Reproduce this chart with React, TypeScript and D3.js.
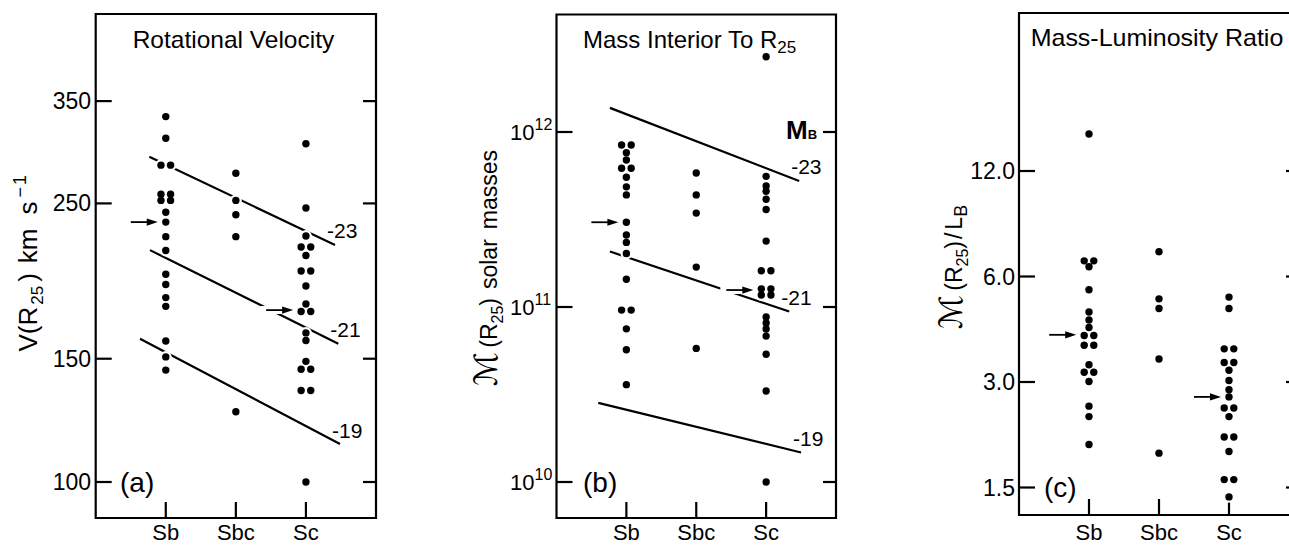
import React from "react";
import * as d3 from "d3";

// ---------- categories & ticks ----------
const categories = ["Sb", "Sbc", "Sc"];

const velTicks = [100, 150, 250, 350];
const velTickLabels = ["100", "150", "250", "350"];
const massTicks = [1e10, 1e11, 1e12];
const massTickExp = ["10", "11", "12"];
const mlTicks = [1.5, 3, 6, 12];
const mlTickLabels = ["1.5", "3.0", "6.0", "12.0"];

// ---------- panel (a): rotational velocity V(R25) km/s ----------
const velSb = [332.6, 309.8, 283.5, 283.5, 257.7, 257.7, 252.5, 252.5, 242.8, 235.1, 224.1, 214.1, 198.0, 191.5, 183.4, 178.2, 159.0, 150.9, 144.5];
const velSbc = [276.1, 252.5, 240.9, 224.1, 126.0];
const velSc = [304.2, 246.2, 224.6, 216.6, 216.6, 210.6, 200.2, 200.2, 190.5, 179.6, 175.2, 175.2, 163.3, 159.3, 148.7, 144.9, 144.9, 135.1, 135.1, 100.0];
// lines of constant M_B: [label, x0 (category units), v0, x1, v1]
const velLines: [string, number, number, number, number][] = [
  ["-23", 0.765, 291.5, 3.415, 218.1],
  ["-21", 0.775, 214.4, 3.462, 157.6],
  ["-19", 0.632, 160.2, 3.486, 113.3],
];
// median arrows: [category index, value]
const velArrows: [number, number][] = [[0, 235.1], [2, 176.0]];

// ---------- panel (b): mass interior to R25 (solar masses) ----------
const massSb = [8.43e11, 8.43e11, 7.62e11, 6.92e11, 6.21e11, 6.21e11, 5.51e11, 4.86e11, 4.37e11, 3.05e11, 2.58e11, 2.34e11, 2.02e11, 1.44e11, 9.6e10, 9.6e10, 7.5e10, 5.7e10, 3.6e10];
const massSbc = [5.83e11, 4.37e11, 3.44e11, 1.69e11, 5.8e10];
const massSc = [2.69e12, 5.58e11, 4.91e11, 4.59e11, 4.13e11, 3.61e11, 2.38e11, 1.61e11, 1.61e11, 1.27e11, 1.27e11, 1.17e11, 1.17e11, 8.77e10, 8.11e10, 7.48e10, 6.82e10, 5.37e10, 3.31e10, 1.0e10];
const massLines: [string, number, number, number, number][] = [
  ["-23", 0.765, 1.374e12, 3.473, 5.25e11],
  ["-21", 0.765, 2.075e11, 3.331, 9.42e10],
  ["-19", 0.598, 2.83e10, 3.5, 1.475e10],
];
const massArrows: [number, number][] = [[0, 3.05e11], [2, 1.25e11]];

// ---------- panel (c): mass-luminosity ratio ----------
const mlSb = [15.3, 6.65, 6.65, 6.4, 5.5, 4.75, 4.51, 4.29, 4.07, 4.07, 3.82, 3.82, 3.36, 3.2, 3.2, 3.01, 2.56, 2.39, 1.99];
const mlSbc = [7.06, 5.18, 4.86, 3.49, 1.88];
const mlSc = [5.24, 4.86, 3.73, 3.73, 3.41, 3.41, 3.24, 3.03, 2.85, 2.72, 2.53, 2.53, 2.39, 2.09, 2.09, 1.9, 1.58, 1.58, 1.41];
const mlArrows: [number, number][] = [[0, 4.09], [2, 2.72]];

const FONT = "'Liberation Sans', Arial, sans-serif";
const SCRIPT = "'DejaVu Sans', 'DejaVu Serif', serif";
const R = 3.7;
const PAIR = 4.8;

type Frame = { left: number; right: number; top: number; bottom: number };

function layoutDots(cols: number[][], x: d3.ScaleLinear<number, number>, y: (v: number) => number) {
  const pts: { cx: number; cy: number; col: number }[] = [];
  cols.forEach((vals, ci) => {
    const groups = d3.group(vals, (v) => v.toFixed(4));
    groups.forEach((arr) => {
      const n = arr.length;
      arr.forEach((v, i) => {
        const off = (i - (n - 1) / 2) * 2 * PAIR;
        pts.push({ cx: x(ci + 1) + off, cy: y(v), col: ci });
      });
    });
  });
  return pts;
}

function Panel(props: {
  f: Frame;
  y: d3.ScaleLogarithmic<number, number>;
  cols: number[][];
  lines?: [string, number, number, number, number][];
  arrows: [number, number][];
  ticks: number[];
  tickLabel: (i: number, yy: number) => React.ReactNode;
}) {
  const { f, y, cols, lines = [], arrows, ticks, tickLabel } = props;
  const x = d3.scaleLinear().domain([0, 4]).range([f.left, f.right]);
  const pts = layoutDots(cols, x, (v) => y(v));
  const arrowGeo = arrows.map(([ci, v]) => {
    const ay = y(v);
    const near = pts.filter((p) => p.col === ci && Math.abs(p.cy - ay) < 4);
    const lx = near.length ? d3.min(near, (p) => p.cx)! : x(ci + 1);
    const tip = lx - 8;
    return { ay, tip, tail: tip - 27 };
  });
  const lineGen = d3.line<[number, number]>().x((d) => d[0]).y((d) => d[1]);
  return (
    <g>
      <path d={`M${f.left},${f.top}H${f.right}V${f.bottom}H${f.left}Z`} fill="none" stroke="#000" strokeWidth={2.2} />
      {ticks.map((t, i) => (
        <g key={"t" + i}>
          <line x1={f.left} x2={f.left + 16} y1={y(t)} y2={y(t)} stroke="#000" strokeWidth={2.2} />
          <line x1={f.right - 13} x2={f.right} y1={y(t)} y2={y(t)} stroke="#000" strokeWidth={2.2} />
          {tickLabel(i, y(t))}
        </g>
      ))}
      {categories.map((c, i) => (
        <g key={c}>
          <line x1={x(i + 1)} x2={x(i + 1)} y1={f.bottom - 16} y2={f.bottom} stroke="#000" strokeWidth={2.2} />
          <text x={x(i + 1)} y={540} textAnchor="middle" fontSize={22}>{c}</text>
        </g>
      ))}
      {lines.map(([lab, x0, v0, x1, v1]) => {
        const p0: [number, number] = [x(x0), y(v0)];
        const p1: [number, number] = [x(x1), y(v1)];
        return (
          <g key={lab}>
            <path d={lineGen([p0, p1])!} stroke="#000" strokeWidth={2.2} fill="none" />
            <text x={p1[0] - 8} y={p1[1] - 14} dominantBaseline="central" fontSize={21}>{lab}</text>
          </g>
        );
      })}
      {arrowGeo.map((a, i) => (
        <line key={"ah" + i} x1={a.tail - 6} x2={a.tip} y1={a.ay} y2={a.ay} stroke="#fff" strokeWidth={8} />
      ))}
      {pts.map((p, i) => (
        <circle key={"h" + i} cx={p.cx} cy={p.cy} r={R + 2.2} fill="#fff" />
      ))}
      {arrowGeo.map((a, i) => (
        <g key={"a" + i}>
          <line x1={a.tail} x2={a.tip - 6} y1={a.ay} y2={a.ay} stroke="#000" strokeWidth={1.8} />
          <path d={`M${a.tip},${a.ay}L${a.tip - 11},${a.ay - 3.6}L${a.tip - 11},${a.ay + 3.6}Z`} fill="#000" />
        </g>
      ))}
      {pts.map((p, i) => (
        <circle key={"d" + i} cx={p.cx} cy={p.cy} r={R} fill="#000" />
      ))}
    </g>
  );
}

export default function App() {
  const fA: Frame = { left: 95.7, right: 376, top: 14, bottom: 518 };
  const fB: Frame = { left: 556.5, right: 836, top: 14.5, bottom: 518 };
  const fC: Frame = { left: 1019, right: 1299, top: 13, bottom: 515 };
  const yA = d3.scaleLog().domain([100, 350]).range([482, 101.1]);
  const yB = d3.scaleLog().domain([1e10, 1e12]).range([482, 132]);
  const yC = d3.scaleLog().domain([1.5, 12]).range([487.5, 171]);

  return (
    <svg width={1289} height={546} style={{ position: "absolute", left: 0, top: 0, background: "#fff" }} fontFamily={FONT}>
      <rect x={0} y={0} width={1289} height={546} fill="#fff" />
      {/* Panel (a) */}
      <Panel
        f={fA}
        y={yA}
        cols={[velSb, velSbc, velSc]}
        lines={velLines}
        arrows={velArrows}
        ticks={velTicks}
        tickLabel={(i, yy) => (
          <text x={91} y={yy} textAnchor="end" dominantBaseline="central" fontSize={23}>{velTickLabels[i]}</text>
        )}
      />
      <text x={132.7} y={48} fontSize={24} textLength={201.5} lengthAdjust="spacingAndGlyphs">Rotational Velocity</text>
      <text x={120} y={482} dominantBaseline="central" fontSize={28}>(a)</text>
      <text transform="translate(37,351.5) rotate(-90)" fontSize={26}>
        V(R<tspan fontSize={17} dx={2} dy={6}>25</tspan>
        <tspan dx={4} dy={-6}>)</tspan>
        <tspan dx={10}>km</tspan>
        <tspan dx={14}>s</tspan>
        <tspan fontSize={18} dx={4} dy={-11}>{"\u2212"}</tspan>
        <tspan fontSize={18} dx={2}>1</tspan>
      </text>

      {/* Panel (b) */}
      <Panel
        f={fB}
        y={yB}
        cols={[massSb, massSbc, massSc]}
        lines={massLines}
        arrows={massArrows}
        ticks={massTicks}
        tickLabel={(i, yy) => (
          <text x={510} y={yy + 8} fontSize={22}>
            10<tspan fontSize={16} dy={-10}>{massTickExp[i]}</tspan>
          </text>
        )}
      />
      <text x={583} y={48} fontSize={24}>
        Mass Interior To R<tspan fontSize={17} dy={5}>25</tspan>
      </text>
      <text x={786} y={139} fontSize={26} fontWeight="bold">
        M<tspan fontSize={13}>B</tspan>
      </text>
      <text x={583} y={482} dominantBaseline="central" fontSize={28}>(b)</text>
      <text transform="translate(497,386) rotate(-90)" fontSize={23}>
        <tspan fontSize={32} fontStyle="italic" fontFamily={SCRIPT}>{"\u2133"}</tspan>
        <tspan dx={4}>(R</tspan>
        <tspan fontSize={16} dy={6}>25</tspan>
        <tspan dy={-6}>)</tspan>
        <tspan dx={9}>solar</tspan>
        <tspan dx={10}>masses</tspan>
      </text>

      {/* Panel (c) */}
      <Panel
        f={fC}
        y={yC}
        cols={[mlSb, mlSbc, mlSc]}
        arrows={mlArrows}
        ticks={mlTicks}
        tickLabel={(i, yy) => (
          <text x={1015} y={yy} textAnchor="end" dominantBaseline="central" fontSize={23}>{mlTickLabels[i]}</text>
        )}
      />
      <text x={1030.7} y={46} fontSize={24} textLength={252.6} lengthAdjust="spacingAndGlyphs">Mass-Luminosity Ratio</text>
      <text x={1044} y={487.5} dominantBaseline="central" fontSize={28}>(c)</text>
      <text transform="translate(962,329) rotate(-90)" fontSize={23}>
        <tspan fontSize={32} fontStyle="italic" fontFamily={SCRIPT}>{"\u2133"}</tspan>
        <tspan dx={4}>(R</tspan>
        <tspan fontSize={16} dy={6}>25</tspan>
        <tspan dy={-6}>)</tspan>
        <tspan dx={2}>/</tspan>
        <tspan dx={3}>L</tspan>
        <tspan fontSize={18} dy={5}>B</tspan>
      </text>
    </svg>
  );
}
